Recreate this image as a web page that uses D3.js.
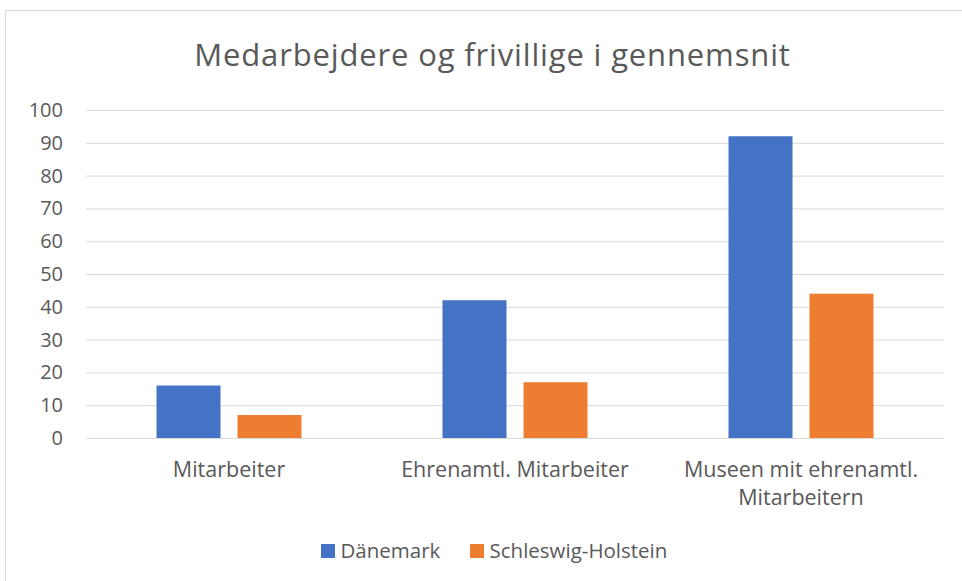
<!DOCTYPE html>
<html><head><meta charset="utf-8">
<script src="https://cdn.jsdelivr.net/npm/d3@7"></script>
<style>body{margin:0;background:#fff;} svg{display:block;}</style>
</head><body>
<script>
const categories = [["Mitarbeiter"], ["Ehrenamtl. Mitarbeiter"], ["Museen mit ehrenamtl.", "Mitarbeitern"]];
const seriesNames = ["Dänemark", "Schleswig-Holstein"];
const daenemark = [16, 42, 92];
const schleswigHolstein = [7, 17, 44];
const yTicks = [0, 10, 20, 30, 40, 50, 60, 70, 80, 90, 100];
const colors = ["#4472C4", "#ED7D31"];

(function () {
const W = 962, H = 581;
const font = "'Open Sans', 'Noto Sans', sans-serif";
const svg = d3.select("body").append("svg").attr("width", W).attr("height", H);

svg.append("rect").attr("x", 5.5).attr("y", 10.5).attr("width", W + 10).attr("height", H + 10)
  .attr("fill", "#fff").attr("stroke", "#d9d9d9").attr("stroke-width", 1);

svg.append("text").attr("x", 492.5).attr("y", 66).attr("text-anchor", "middle")
  .attr("font-family", font).attr("font-size", 31).attr("letter-spacing", 0.85).attr("fill", "#595959")
  .text("Medarbejdere og frivillige i gennemsnit");

const pLeft = 86, pRight = 944, pTop = 110, pBottom = 438;
const x = d3.scaleBand().domain(d3.range(categories.length)).range([pLeft, pRight]).paddingInner(0).paddingOuter(0);
const y = d3.scaleLinear().domain([0, 100]).range([pBottom, pTop]);

const yAxis = d3.axisLeft(y).tickValues(yTicks).tickSize(-(pRight - pLeft)).tickPadding(23);
const gy = svg.append("g").attr("transform", `translate(${pLeft},0)`).call(yAxis);
gy.select(".domain").remove();
gy.selectAll(".tick line").attr("stroke", "#d9d9d9").attr("stroke-width", 1);
gy.selectAll(".tick text").attr("font-family", font).attr("font-size", 20).attr("fill", "#595959");

const half = x.bandwidth() / 2;
const inner = d3.scaleBand().domain([0, 1]).range([half - 72.5, half + 72.5]).paddingInner(17 / 81).paddingOuter(0);
const data = [daenemark, schleswigHolstein];
data.forEach((vals, si) => {
  svg.append("g").selectAll("rect").data(vals).join("rect")
    .attr("x", (d, i) => x(i) + inner(si))
    .attr("y", d => y(d))
    .attr("width", inner.bandwidth())
    .attr("height", d => y(0) - y(d))
    .attr("fill", colors[si]);
});

const xAxis = d3.axisBottom(x).tickSize(0).tickFormat(() => "");
const gx = svg.append("g").attr("transform", `translate(0,${pBottom})`).call(xAxis);
gx.select(".domain").remove();
gx.selectAll(".tick").each(function(d) {
  const t = d3.select(this).append("text").attr("text-anchor", "middle")
    .attr("font-family", font).attr("font-size", 21.5).attr("fill", "#595959");
  categories[d].forEach((line, li) => {
    t.append("tspan").attr("x", 0).attr("y", 38.7 + li * 28.3).text(line);
  });
});

const legend = svg.append("g");
const legendX = [321, 470];
seriesNames.forEach((name, i) => {
  legend.append("rect").attr("x", legendX[i]).attr("y", 544).attr("width", 14).attr("height", 14).attr("fill", colors[i]);
  legend.append("text").attr("x", legendX[i] + 19.5).attr("y", 558.3)
    .attr("font-family", font).attr("font-size", 20.5).attr("fill", "#595959").text(name);
});
})();
</script>
</body></html>
